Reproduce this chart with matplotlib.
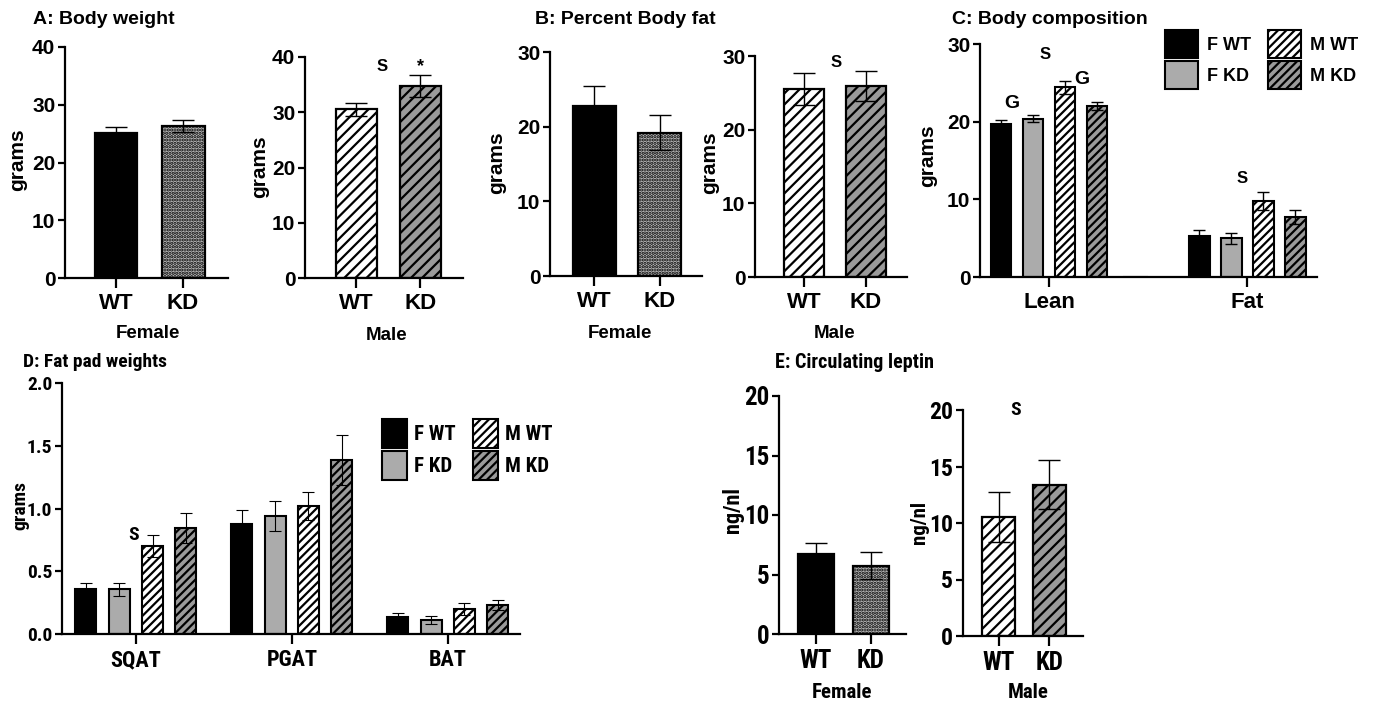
import matplotlib
matplotlib.use('Agg')
import matplotlib.pyplot as plt
import numpy as np
from matplotlib import font_manager
from matplotlib.font_manager import FontProperties

# ---------------- data ----------------
genotypes = ['WT', 'KD']
bw_female = [25.1, 26.3]
bw_female_err = [1.0, 1.0]
bw_male = [30.5, 34.8]
bw_male_err = [1.1, 2.0]

bf_female = [22.8, 19.2]
bf_female_err = [2.6, 2.3]
bf_male = [25.5, 25.9]
bf_male_err = [2.2, 2.0]

comp_categories = ['Lean', 'Fat']
comp_f_wt = [19.7, 5.3]
comp_f_wt_err = [0.5, 0.7]
comp_f_kd = [20.4, 5.0]
comp_f_kd_err = [0.5, 0.7]
comp_m_wt = [24.4, 9.8]
comp_m_wt_err = [0.8, 1.2]
comp_m_kd = [22.0, 7.7]
comp_m_kd_err = [0.5, 0.9]

fat_pads = ['SQAT', 'PGAT', 'BAT']
pad_f_wt = [0.36, 0.875, 0.135]
pad_f_wt_err = [0.05, 0.11, 0.035]
pad_f_kd = [0.355, 0.94, 0.11]
pad_f_kd_err = [0.05, 0.12, 0.033]
pad_m_wt = [0.70, 1.02, 0.20]
pad_m_wt_err = [0.09, 0.11, 0.045]
pad_m_kd = [0.845, 1.385, 0.228]
pad_m_kd_err = [0.12, 0.20, 0.04]

leptin_female = [6.7, 5.75]
leptin_female_err = [0.95, 1.1]
leptin_male = [10.5, 13.4]
leptin_male_err = [2.2, 2.2]

series_labels = ['F WT', 'F KD', 'M WT', 'M KD']

# ---------------- fonts ----------------
MAIN = ['Liberation Sans', 'DejaVu Sans']
plt.rcParams['font.family'] = MAIN
plt.rcParams['font.weight'] = 'bold'
plt.rcParams['hatch.linewidth'] = 1.6


def _w(v):
    if isinstance(v, str):
        return font_manager.weight_dict.get(v, 400)
    return v


def _find_narrow():
    prio = ['liberation sans narrow', 'roboto condensed', 'noto sans', 'open sans', 'arimo', 'dejavu sans']
    best = None
    for f in font_manager.fontManager.ttflist:
        nm = f.name.lower()
        st = f.stretch
        isnarrow = ('narrow' in nm or 'condensed' in nm or
                    (isinstance(st, str) and st in ('condensed', 'semi-condensed')) or
                    (isinstance(st, int) and 300 <= st < 500))
        if not isnarrow or f.style != 'normal':
            continue
        w = _w(f.weight)
        if w < 600 or w > 800:
            continue
        rank = len(prio)
        for i, p in enumerate(prio):
            if nm.startswith(p):
                rank = i
                break
        key = (rank, abs(w - 700))
        if best is None or key < best[0]:
            best = (key, f.fname)
    return best[1] if best else None


NARROW_PATH = _find_narrow()


def NFP(size):
    if NARROW_PATH:
        return FontProperties(fname=NARROW_PATH, size=size)
    return FontProperties(family=MAIN, weight='bold', size=size * 0.88)


def MFP(size):
    return FontProperties(family=MAIN, weight='bold', size=size)


W, H = 1381, 704
fig = plt.figure(figsize=(W / 100, H / 100), dpi=100)


def axpx(l, t, r, b):
    return fig.add_axes([l / W, 1 - b / H, (r - l) / W, (b - t) / H])


def ftext(x, y, s, fp, **kw):
    kw.setdefault('ha', 'center')
    kw.setdefault('va', 'center')
    fig.text(x / W, 1 - y / H, s, fontproperties=fp, **kw)


STY = {
    'F WT': dict(facecolor='black', hatch=None),
    'F KD dots': dict(facecolor='#bcbcbc', hatch='.....'),
    'F KD': dict(facecolor='#ababab', hatch=None),
    'M WT': dict(facecolor='white', hatch='///'),
    'M KD': dict(facecolor='#9a9a9a', hatch='///'),
    'M WT fine': dict(facecolor='white', hatch='////'),
    'M KD fine': dict(facecolor='#9a9a9a', hatch='////'),
}


def style_axes(ax, ylim, yticks, yfp, xfp, yfmt=None):
    ax.set_ylim(*ylim)
    ax.set_yticks(yticks)
    if yfmt:
        ax.set_yticklabels([yfmt.format(v) for v in yticks])
    for s in ['top', 'right']:
        ax.spines[s].set_visible(False)
    for s in ['left', 'bottom']:
        ax.spines[s].set_linewidth(1.6)
    ax.tick_params(axis='y', direction='out', length=5, width=1.6, pad=2)
    ax.tick_params(axis='x', direction='out', length=7, width=1.6, pad=4)
    for lbl in ax.get_yticklabels():
        lbl.set_fontproperties(yfp)
    for lbl in ax.get_xticklabels():
        lbl.set_fontproperties(xfp)


def two_bar(ax, vals, errs, keys, xlim, width, capsize):
    x = np.arange(len(vals))
    for i, k in enumerate(keys):
        ax.bar(x[i], vals[i], width, edgecolor='black', linewidth=1.6, **STY[k])
    ax.errorbar(x, vals, yerr=errs, fmt='none', ecolor='black', elinewidth=1.0,
                capsize=capsize, capthick=1.0, zorder=3)
    ax.set_xlim(*xlim)
    ax.set_xticks(x)
    ax.set_xticklabels(genotypes)


# ---------------- A: body weight ----------------
ax = axpx(65, 47, 228, 278)
two_bar(ax, bw_female, bw_female_err, ['F WT', 'F KD dots'], (-0.76, 1.67), 0.64, 8)
style_axes(ax, (0, 40), [0, 10, 20, 30, 40], MFP(15), MFP(16))

ax = axpx(305, 57, 463, 278)
two_bar(ax, bw_male, bw_male_err, ['M WT', 'M KD'], (-0.8, 1.67), 0.64, 8)
style_axes(ax, (0, 40), [0, 10, 20, 30, 40], MFP(15), MFP(16))
ax.text(0.4, 37.5, 'S', ha='center', va='baseline', fontproperties=MFP(12))
ax.text(1.0, 37.5, '*', ha='center', va='baseline', fontproperties=MFP(13))

ftext(33, 20, 'A: Body weight', MFP(14), ha='left')
ftext(18, 160, 'grams', MFP(15), rotation=90)
ftext(260, 167, 'grams', MFP(15), rotation=90)
ftext(148, 333, 'Female', MFP(13.5))
ftext(387, 335, 'Male', MFP(13.5))

# ---------------- B: percent body fat ----------------
ax = axpx(550, 52, 702, 276)
two_bar(ax, bf_female, bf_female_err, ['F WT', 'F KD dots'], (-0.68, 1.65), 0.65, 8)
style_axes(ax, (0, 30), [0, 10, 20, 30], MFP(15), MFP(16))

ax = axpx(755, 56, 907, 277)
two_bar(ax, bf_male, bf_male_err, ['M WT', 'M KD'], (-0.79, 1.66), 0.65, 8)
style_axes(ax, (0, 30), [0, 10, 20, 30], MFP(15), MFP(16))
ax.text(0.52, 28.5, 'S', ha='center', va='baseline', fontproperties=MFP(12))

ftext(535, 19, 'B: Percent Body fat', MFP(14), ha='left')
ftext(497, 163, 'grams', MFP(15), rotation=90)
ftext(710, 163, 'grams', MFP(15), rotation=90)
ftext(620, 333, 'Female', MFP(13.5))
ftext(835, 333, 'Male', MFP(13.5))

# ---------------- C: body composition ----------------
ax = axpx(980, 44, 1317, 277)
cpos = np.array([0.0, 6.2])
offs = [-1.5, -0.5, 0.5, 1.5]
c_vals = [comp_f_wt, comp_f_kd, comp_m_wt, comp_m_kd]
c_errs = [comp_f_wt_err, comp_f_kd_err, comp_m_wt_err, comp_m_kd_err]
c_keys = ['F WT', 'F KD', 'M WT fine', 'M KD fine']
handles = []
for v, e, k, o, lab in zip(c_vals, c_errs, c_keys, offs, series_labels):
    b = ax.bar(cpos + o, v, 0.64, edgecolor='black', linewidth=1.5, label=lab, **STY[k])
    ax.errorbar(cpos + o, v, yerr=e, fmt='none', ecolor='black', elinewidth=1.0,
                capsize=4, capthick=1.0, zorder=3)
    handles.append(b)
ax.bar([2.7], [0], 0.78, edgecolor='black', linewidth=1.5, facecolor='black')
ax.set_xlim(-2.16, 8.375)
ax.set_xticks(cpos)
ax.set_xticklabels(comp_categories)
style_axes(ax, (0, 30), [0, 10, 20, 30], MFP(15), MFP(16))
ax.text(-0.12, 28.1, 'S', ha='center', va='baseline', fontproperties=MFP(12))
ax.text(-1.16, 21.8, 'G', ha='center', va='baseline', fontproperties=MFP(14))
ax.text(1.03, 24.85, 'G', ha='center', va='baseline', fontproperties=MFP(14))
ax.text(6.03, 12.1, 'S', ha='center', va='baseline', fontproperties=MFP(12))
ax.legend(handles=handles, ncol=2, loc='upper left', bbox_to_anchor=(1165 / W, 1 - 30 / H),
          bbox_transform=fig.transFigure, frameon=False, borderpad=0, borderaxespad=0,
          handlelength=1.85, handleheight=2.05, handletextpad=0.5, columnspacing=0.9,
          labelspacing=0.12, prop=MFP(13))
ftext(952, 20, 'C: Body composition', MFP(14), ha='left')
ftext(928, 156, 'grams', MFP(15), rotation=90)

# ---------------- D: fat pad weights ----------------
ax = axpx(62, 383, 520, 634)
dpos = np.array([0.0, 4.68, 9.36])
d_vals = [pad_f_wt, pad_f_kd, pad_m_wt, pad_m_kd]
d_errs = [pad_f_wt_err, pad_f_kd_err, pad_m_wt_err, pad_m_kd_err]
handles = []
for v, e, k, o, lab in zip(d_vals, d_errs, c_keys, offs, series_labels):
    b = ax.bar(dpos + o, v, 0.63, edgecolor='black', linewidth=1.5, label=lab, **STY[k])
    ax.errorbar(dpos + o, v, yerr=e, fmt='none', ecolor='black', elinewidth=0.8,
                capsize=4, capthick=0.8, zorder=3)
    handles.append(b)
ax.set_xlim(-2.22, 11.53)
ax.set_xticks(dpos)
ax.set_xticklabels(fat_pads)
style_axes(ax, (0, 2.0), [0, 0.5, 1.0, 1.5, 2.0], NFP(14), NFP(16), yfmt='{:.1f}')
ax.text(-0.06, 0.75, 'S', ha='center', va='baseline', fontproperties=NFP(14))
ax.legend(handles=handles, ncol=2, loc='upper left', bbox_to_anchor=(382 / W, 1 - 419 / H),
          bbox_transform=fig.transFigure, frameon=False, borderpad=0, borderaxespad=0,
          handlelength=1.2, handleheight=1.75, handletextpad=0.35, columnspacing=0.8,
          labelspacing=0.15, prop=NFP(15))
ftext(23, 362, 'D: Fat pad weights', NFP(14), ha='left')
ftext(20, 505, 'grams', NFP(14), rotation=90)

# ---------------- E: circulating leptin ----------------
ax = axpx(779, 396, 906, 634)
two_bar(ax, leptin_female, leptin_female_err, ['F WT', 'F KD dots'], (-0.68, 1.65), 0.66, 8)
style_axes(ax, (0, 20), [0, 5, 10, 15, 20], NFP(18), NFP(18))

ax = axpx(963, 410, 1083, 636)
two_bar(ax, leptin_male, leptin_male_err, ['M WT', 'M KD'], (-0.7, 1.66), 0.65, 8)
style_axes(ax, (0, 20), [0, 5, 10, 15, 20], NFP(17), NFP(18))
ax.text(0.34, 19.6, 'S', ha='center', va='baseline', fontproperties=NFP(14))

ftext(775, 362, 'E: Circulating leptin', NFP(14.5), ha='left')
ftext(733, 510, 'ng/nl', NFP(16), rotation=90)
ftext(920, 522, 'ng/nl', NFP(15), rotation=90)
ftext(842, 692, 'Female', NFP(15))
ftext(1028, 693, 'Male', NFP(15))

fig.savefig('out.png', dpi=100)
